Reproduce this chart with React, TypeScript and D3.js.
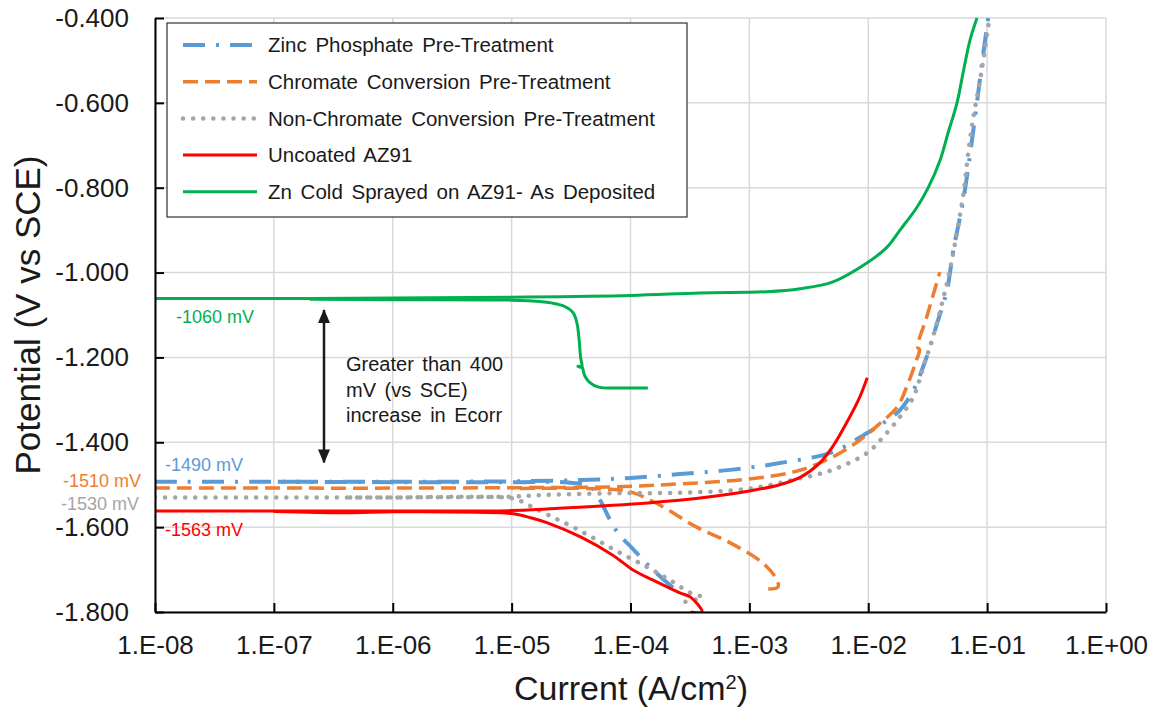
import { useEffect, useRef } from 'react'
import * as d3 from 'd3'

type Pt = [number, number] // [current A/cm2, potential V]

const currentTicks = [1e-8, 1e-7, 1e-6, 1e-5, 1e-4, 1e-3, 1e-2, 1e-1, 1]
const currentLabels = ['1.E-08', '1.E-07', '1.E-06', '1.E-05', '1.E-04', '1.E-03', '1.E-02', '1.E-01', '1.E+00']
const potentialTicks = [-0.4, -0.6, -0.8, -1.0, -1.2, -1.4, -1.6, -1.8]
const potentialLabels = ['-0.400', '-0.600', '-0.800', '-1.000', '-1.200', '-1.400', '-1.600', '-1.800']

const seriesNames = [
  'Zinc Phosphate Pre-Treatment',
  'Chromate Conversion Pre-Treatment',
  'Non-Chromate Conversion Pre-Treatment',
  'Uncoated AZ91',
  'Zn Cold Sprayed on AZ91- As Deposited',
]
const ecorrMv = [-1490, -1510, -1530, -1563, -1060]

const zincPhosphateCathodic: Pt[] = [
  [2.28e-4, -1.743], [1.46e-4, -1.694], [1.07e-4, -1.654], [7.85e-5, -1.614], [6.72e-5, -1.583],
  [5.54e-5, -1.536], [4.6e-5, -1.505], [3e-5, -1.495], [1e-5, -1.494], [1e-6, -1.494], [1e-7, -1.493],
]
const zincPhosphateAnodic: Pt[] = [
  [1e-8, -1.493], [1e-7, -1.493], [1e-6, -1.493], [1e-5, -1.492], [3.8e-5, -1.489], [1e-4, -1.484],
  [2.6e-4, -1.475], [6.9e-4, -1.465], [1.8e-3, -1.449], [5e-3, -1.423], [9.8e-3, -1.378], [1.33e-2, -1.355],
  [1.85e-2, -1.324], [2.4e-2, -1.277], [3.1e-2, -1.199], [3.8e-2, -1.119], [4.6e-2, -1.041], [5.2e-2, -0.947],
  [6.3e-2, -0.829], [7.6e-2, -0.671], [9.2e-2, -0.492], [0.102, -0.4],
]

const chromateCathodic: Pt[] = [
  [1.44e-3, -1.746], [1.74e-3, -1.741], [1.71e-3, -1.725], [1.3e-3, -1.685], [6.9e-4, -1.637],
  [3.6e-4, -1.6], [1.9e-4, -1.553], [1e-4, -1.517], [6e-5, -1.51], [1e-5, -1.509],
]
const chromateAnodic: Pt[] = [
  [1e-8, -1.508], [1e-7, -1.508], [1e-6, -1.508], [1e-5, -1.507], [7e-5, -1.505], [2.6e-4, -1.498],
  [9.5e-4, -1.487], [2.5e-3, -1.468], [5e-3, -1.435], [8.5e-3, -1.395], [1.26e-2, -1.355], [1.75e-2, -1.317],
  [2.1e-2, -1.27], [2.55e-2, -1.206], [2.7e-2, -1.182], [2.6e-2, -1.176], [3.1e-2, -1.105], [4.0e-2, -0.999],
]

const nonChromateCathodic: Pt[] = [
  [2.9e-4, -1.776], [4e-4, -1.765], [3.2e-4, -1.755], [2.15e-4, -1.725], [1.38e-4, -1.694], [8.2e-5, -1.661],
  [5.2e-5, -1.63], [3.3e-5, -1.6], [2.2e-5, -1.576], [1.5e-5, -1.553], [1.25e-5, -1.541], [1e-5, -1.532],
  [1e-6, -1.53], [4e-7, -1.53],
]
const nonChromateAnodic: Pt[] = [
  [1e-8, -1.53], [1e-7, -1.53], [1e-6, -1.53], [1e-5, -1.528], [2e-5, -1.524], [7e-5, -1.52], [2.6e-4, -1.519],
  [9.5e-4, -1.51], [2.3e-3, -1.489], [5e-3, -1.465], [9.8e-3, -1.425], [1.33e-2, -1.388], [1.85e-2, -1.34],
  [2.4e-2, -1.293], [2.9e-2, -1.223], [3.5e-2, -1.152], [4.3e-2, -1.058], [4.8e-2, -1.001], [6.2e-2, -0.829],
  [7.3e-2, -0.671], [9.1e-2, -0.515], [0.104, -0.405],
]

const uncoatedCathodic: Pt[] = [
  [3.2e-4, -1.8], [4.0e-4, -1.8], [3.2e-4, -1.765], [2.6e-4, -1.755], [1.55e-4, -1.725], [1.05e-4, -1.701],
  [7.1e-5, -1.666], [3.8e-5, -1.623], [2.0e-5, -1.59], [1.45e-5, -1.578], [1e-5, -1.568], [5e-6, -1.565],
  [1e-6, -1.564], [4e-7, -1.566], [1e-7, -1.563],
]
const uncoatedAnodic: Pt[] = [
  [1e-8, -1.562], [1e-7, -1.562], [1e-6, -1.562], [1e-5, -1.561], [2e-5, -1.557], [1.4e-4, -1.543],
  [4.5e-4, -1.529], [1e-3, -1.515], [1.8e-3, -1.5], [2.7e-3, -1.482], [3.9e-3, -1.449], [5e-3, -1.411],
  [7e-3, -1.34], [8.5e-3, -1.293], [9.8e-3, -1.248],
]

const znSprayedCathodic: Pt[] = [
  [1.4e-4, -1.272], [8e-5, -1.272], [5.4e-5, -1.27], [4.5e-5, -1.258], [4.1e-5, -1.242], [3.9e-5, -1.222],
  [3.6e-5, -1.221], [3.9e-5, -1.223], [3.8e-5, -1.2], [3.7e-5, -1.16], [3.55e-5, -1.12], [3.3e-5, -1.095],
  [2.8e-5, -1.08], [2.2e-5, -1.072], [1.5e-5, -1.067], [1e-5, -1.065], [1e-6, -1.064], [2e-7, -1.063],
]
const znSprayedAnodic: Pt[] = [
  [1e-8, -1.061], [2e-7, -1.061], [1e-6, -1.06], [1e-5, -1.058], [1e-4, -1.054], [3.85e-4, -1.048],
  [1.41e-3, -1.045], [2.67e-3, -1.038], [5.05e-3, -1.022], [9.8e-3, -0.977], [1.44e-2, -0.94],
  [1.85e-2, -0.9], [2.57e-2, -0.846], [3.18e-2, -0.801], [4.02e-2, -0.735], [4.69e-2, -0.671],
  [5.58e-2, -0.6], [6.27e-2, -0.53], [7.18e-2, -0.452], [8.22e-2, -0.4],
]

const seriesData: Pt[][][] = [
  [zincPhosphateCathodic, zincPhosphateAnodic],
  [chromateCathodic, chromateAnodic],
  [nonChromateCathodic, nonChromateAnodic],
  [uncoatedCathodic, uncoatedAnodic],
  [znSprayedCathodic, znSprayedAnodic],
]

const lineStyles = [
  { color: '#5b9bd5', width: 4, dash: '22 11 3 11', cap: 'butt' },
  { color: '#ed7d31', width: 3.5, dash: '15 7', cap: 'butt' },
  { color: '#a5a5a5', width: 4.5, dash: '0.1 10', cap: 'round' },
  { color: '#ff0000', width: 3, dash: null, cap: 'butt' },
  { color: '#00b050', width: 3, dash: null, cap: 'butt' },
]

const FONT = '"Liberation Sans", Arial, sans-serif'
const TEXT = '#1a1a1a'

const Chart = () => {
  const width = 1156
  const height = 708
  const plot = { left: 155, right: 1106, top: 18, bottom: 612 }
  const svgRef = useRef<SVGSVGElement>(null)

  useEffect(() => {
    const svg = d3.select(svgRef.current)
    svg.selectAll('*').remove()

    const x = d3.scaleLog().domain([1e-8, 1]).range([plot.left, plot.right])
    const y = d3.scaleLinear().domain([-1.8, -0.4]).range([plot.bottom, plot.top])

    const defs = svg.append('defs')
    defs.append('clipPath').attr('id', 'plot-clip')
      .append('rect')
      .attr('x', plot.left).attr('y', plot.top - 2)
      .attr('width', plot.right - plot.left).attr('height', plot.bottom - plot.top + 2)

    defs.append('marker')
      .attr('id', 'arrow-head')
      .attr('viewBox', '0 0 14 12')
      .attr('refX', 13).attr('refY', 6)
      .attr('markerWidth', 14).attr('markerHeight', 12)
      .attr('markerUnits', 'userSpaceOnUse')
      .attr('orient', 'auto-start-reverse')
      .append('path')
      .attr('d', 'M0,0 L14,6 L0,12 Z')
      .attr('fill', '#1a1a1a')

    // gridlines
    const grid = svg.append('g').attr('stroke', '#d9d9d9').attr('stroke-width', 1.5)
    currentTicks.forEach(t => {
      grid.append('line')
        .attr('x1', x(t)).attr('x2', x(t))
        .attr('y1', plot.top).attr('y2', plot.bottom)
    })
    potentialTicks.forEach(t => {
      grid.append('line')
        .attr('x1', plot.left).attr('x2', plot.right)
        .attr('y1', y(t)).attr('y2', y(t))
    })

    // series
    const line = d3.line<Pt>()
      .x(d => x(d[0]))
      .y(d => y(d[1]))
      .curve(d3.curveCatmullRom.alpha(0.5))

    const lines = svg.append('g').attr('clip-path', 'url(#plot-clip)')
    seriesData.forEach((parts, i) => {
      const s = lineStyles[i]
      parts.forEach(part => {
        lines.append('path')
          .datum(part)
          .attr('fill', 'none')
          .attr('stroke', s.color)
          .attr('stroke-width', s.width)
          .attr('stroke-dasharray', s.dash)
          .attr('stroke-linecap', s.cap)
          .attr('stroke-linejoin', 'round')
          .attr('d', line)
      })
    })

    // axes
    const xAxis = svg.append('g')
      .attr('transform', `translate(0,${plot.bottom})`)
      .call(d3.axisBottom(x)
        .tickValues(currentTicks)
        .tickFormat((_d, i) => currentLabels[i])
        .tickSize(-9)
        .tickSizeOuter(0)
        .tickPadding(24))
    const yAxis = svg.append('g')
      .attr('transform', `translate(${plot.left},0)`)
      .call(d3.axisLeft(y)
        .tickValues(potentialTicks)
        .tickFormat((_d, i) => potentialLabels[i])
        .tickSize(-9)
        .tickSizeOuter(0)
        .tickPadding(26))

    ;[xAxis, yAxis].forEach(ax => {
      ax.select('.domain').attr('stroke', '#000').attr('stroke-width', 2)
      ax.selectAll('.tick line').attr('stroke', '#000').attr('stroke-width', 2)
      ax.selectAll('.tick text')
        .style('font-family', FONT)
        .style('font-size', '26px')
        .attr('fill', TEXT)
    })

    // axis titles
    svg.append('text')
      .attr('transform', `translate(28,${(plot.top + plot.bottom) / 2}) rotate(-90)`)
      .attr('text-anchor', 'middle')
      .attr('dy', '0.35em')
      .style('font-family', FONT)
      .style('font-size', '35px')
      .attr('fill', TEXT)
      .text('Potential (V vs SCE)')

    const xt = svg.append('text')
      .attr('x', 631)
      .attr('y', 688)
      .attr('dy', '0.35em')
      .attr('text-anchor', 'middle')
      .style('font-family', FONT)
      .style('font-size', '34px')
      .attr('fill', TEXT)
    xt.append('tspan').text('Current (A/cm')
    xt.append('tspan').attr('baseline-shift', 'super').style('font-size', '20px').text('2')
    xt.append('tspan').text(')')

    // Ecorr labels
    const labelOffsets = [
      { dx: 10, dy: -16 },
      { dx: -92, dy: -8 },
      { dx: -94, dy: 6 },
      { dx: 10, dy: 18 },
      { dx: 21, dy: 19 },
    ]
    ecorrMv.forEach((mv, i) => {
      svg.append('text')
        .attr('x', plot.left + labelOffsets[i].dx)
        .attr('y', y(mv / 1000) + labelOffsets[i].dy)
        .attr('dy', '0.35em')
        .style('font-family', FONT)
        .style('font-size', '18px')
        .attr('fill', lineStyles[i].color)
        .text(`${mv} mV`)
    })

    // double arrow between Ecorr values
    const arrowX = x(2.64e-7)
    svg.append('line')
      .attr('x1', arrowX).attr('x2', arrowX)
      .attr('y1', y(ecorrMv[4] / 1000) + 12)
      .attr('y2', y(ecorrMv[0] / 1000) - 18)
      .attr('stroke', '#1a1a1a')
      .attr('stroke-width', 2.5)
      .attr('marker-start', 'url(#arrow-head)')
      .attr('marker-end', 'url(#arrow-head)')

    const note = svg.append('text')
      .attr('x', arrowX + 22)
      .attr('y', 371)
      .style('font-family', FONT)
      .style('font-size', '20px')
      .style('word-spacing', '3px')
      .attr('fill', TEXT)
    ;['Greater than 400', 'mV (vs SCE)', 'increase in Ecorr'].forEach((t, i) => {
      note.append('tspan').attr('x', arrowX + 22).attr('dy', i === 0 ? 0 : 25.5).text(t)
    })

    // legend
    const legend = svg.append('g').attr('transform', 'translate(167,23)')
    legend.append('rect')
      .attr('width', 520).attr('height', 194)
      .attr('fill', '#fff')
      .attr('stroke', '#404040')
      .attr('stroke-width', 1.3)
    seriesNames.forEach((name, i) => {
      const s = lineStyles[i]
      const row = legend.append('g').attr('transform', `translate(0,${22 + i * 36.7})`)
      row.append('line')
        .attr('x1', 16).attr('x2', 90)
        .attr('stroke', s.color)
        .attr('stroke-width', s.width)
        .attr('stroke-dasharray', s.dash)
        .attr('stroke-linecap', s.cap)
      row.append('text')
        .attr('x', 101)
        .attr('dy', '0.35em')
        .style('font-family', FONT)
        .style('font-size', '20.5px')
        .style('word-spacing', '3px')
        .attr('fill', TEXT)
        .text(name)
    })
  }, [])

  return (
    <svg ref={svgRef} width={width} height={height}
      style={{ position: 'absolute', left: 0, top: 0, background: '#fff' }} />
  )
}

export default function App() {
  return <Chart />
}
